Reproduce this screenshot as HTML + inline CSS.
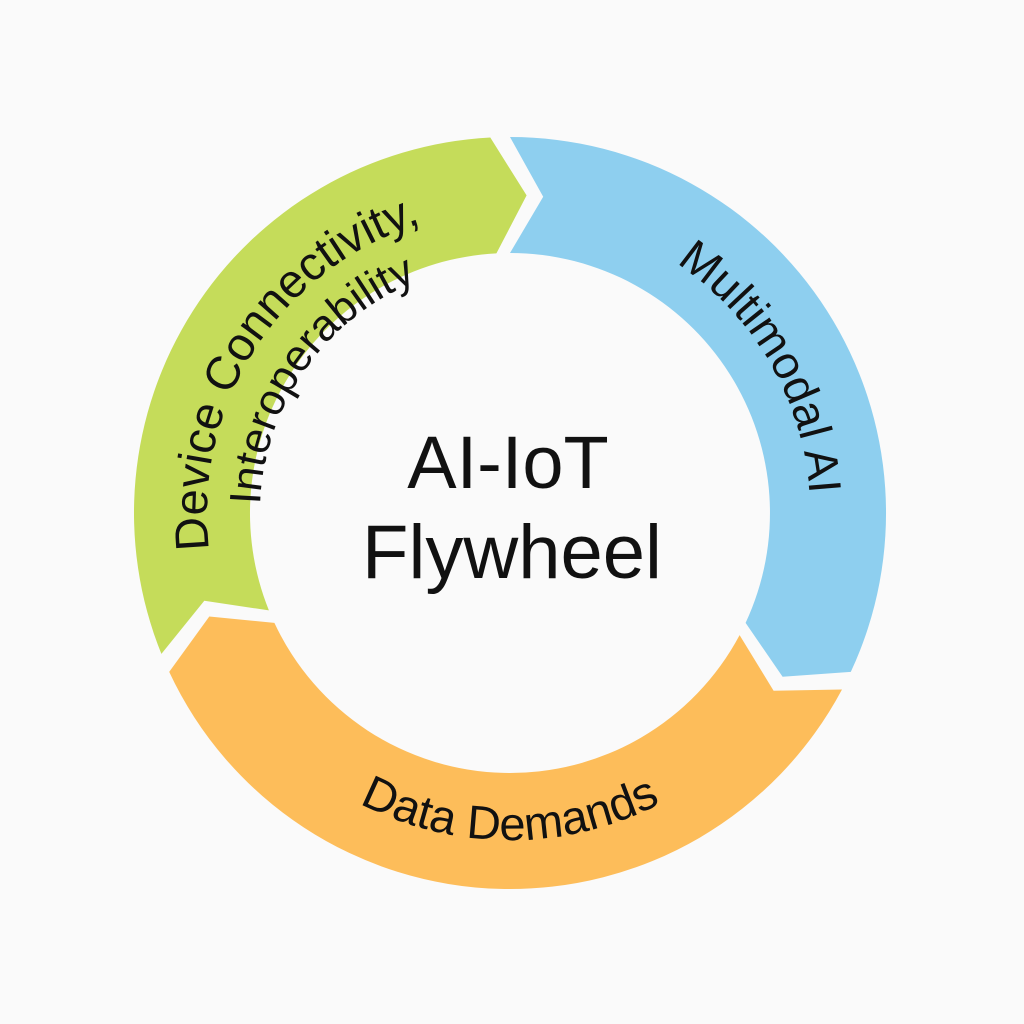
<!DOCTYPE html>
<html><head><meta charset="utf-8">
<style>
html,body{margin:0;padding:0;background:#fafafa;}
svg{display:block;}
text{font-family:"Liberation Sans","DejaVu Sans",sans-serif;fill:#111;}
</style></head>
<body>
<svg id="s" width="1024" height="1024" viewBox="0 0 1024 1024" xmlns="http://www.w3.org/2000/svg">
<rect width="1024" height="1024" fill="#fafafa"/>
<g id="segs"></g>
<defs>
<path id="pM" d=""/>
<path id="pD" d=""/>
<path id="pC1" d=""/>
<path id="pC2" d=""/>
</defs>
<text font-size="46"><textPath href="#pM" startOffset="50%" text-anchor="middle">Multimodal AI</textPath></text>
<text font-size="47"><textPath href="#pD" startOffset="50%" text-anchor="middle">Data Demands</textPath></text>
<text font-size="47"><textPath href="#pC1" startOffset="50%" text-anchor="middle">Device Connectivity,</textPath></text>
<text font-size="44"><textPath href="#pC2" startOffset="50%" text-anchor="middle">Interoperability</textPath></text>
<text x="508" y="488" font-size="74" text-anchor="middle">AI-IoT</text>
<text x="512" y="578" font-size="76" text-anchor="middle">Flywheel</text>
</svg>
<script>
var cx=510,cy=513,R=376,r=260,m=(R+r)/2,d=6;
function P(rad,a){a=a*Math.PI/180;return (cx+rad*Math.cos(a)).toFixed(1)+","+(cy+rad*Math.sin(a)).toFixed(1);}
function seg(a0,a1,col){
 var large=(a1-a0)>180?1:0;
 var p="M"+P(R,a0)+" A"+R+","+R+" 0 "+large+" 1 "+P(R,a1)+" L"+P(m,a1+d)+" L"+P(r,a1)+
 " A"+r+","+r+" 0 "+large+" 0 "+P(r,a0)+" L"+P(m,a0+d)+" Z";
 return '<path d="'+p+'" fill="'+col+'"/>';
}
document.getElementById("segs").innerHTML=seg(158,267,"#c5dc5a")+seg(270,385,"#8ecfef")+seg(388,515,"#fdbd5a");
function arc(id,rad,a0,a1,sweep){
 document.getElementById(id).setAttribute("d","M"+P(rad,a0)+" A"+rad+","+rad+" 0 0 "+sweep+" "+P(rad,a1));
}
arc("pM",300,-76,16,1);
arc("pD",327,165,15,0);
arc("pC1",303,163,263,1);
arc("pC2",250,165,265,1);
</script>
</body></html>
